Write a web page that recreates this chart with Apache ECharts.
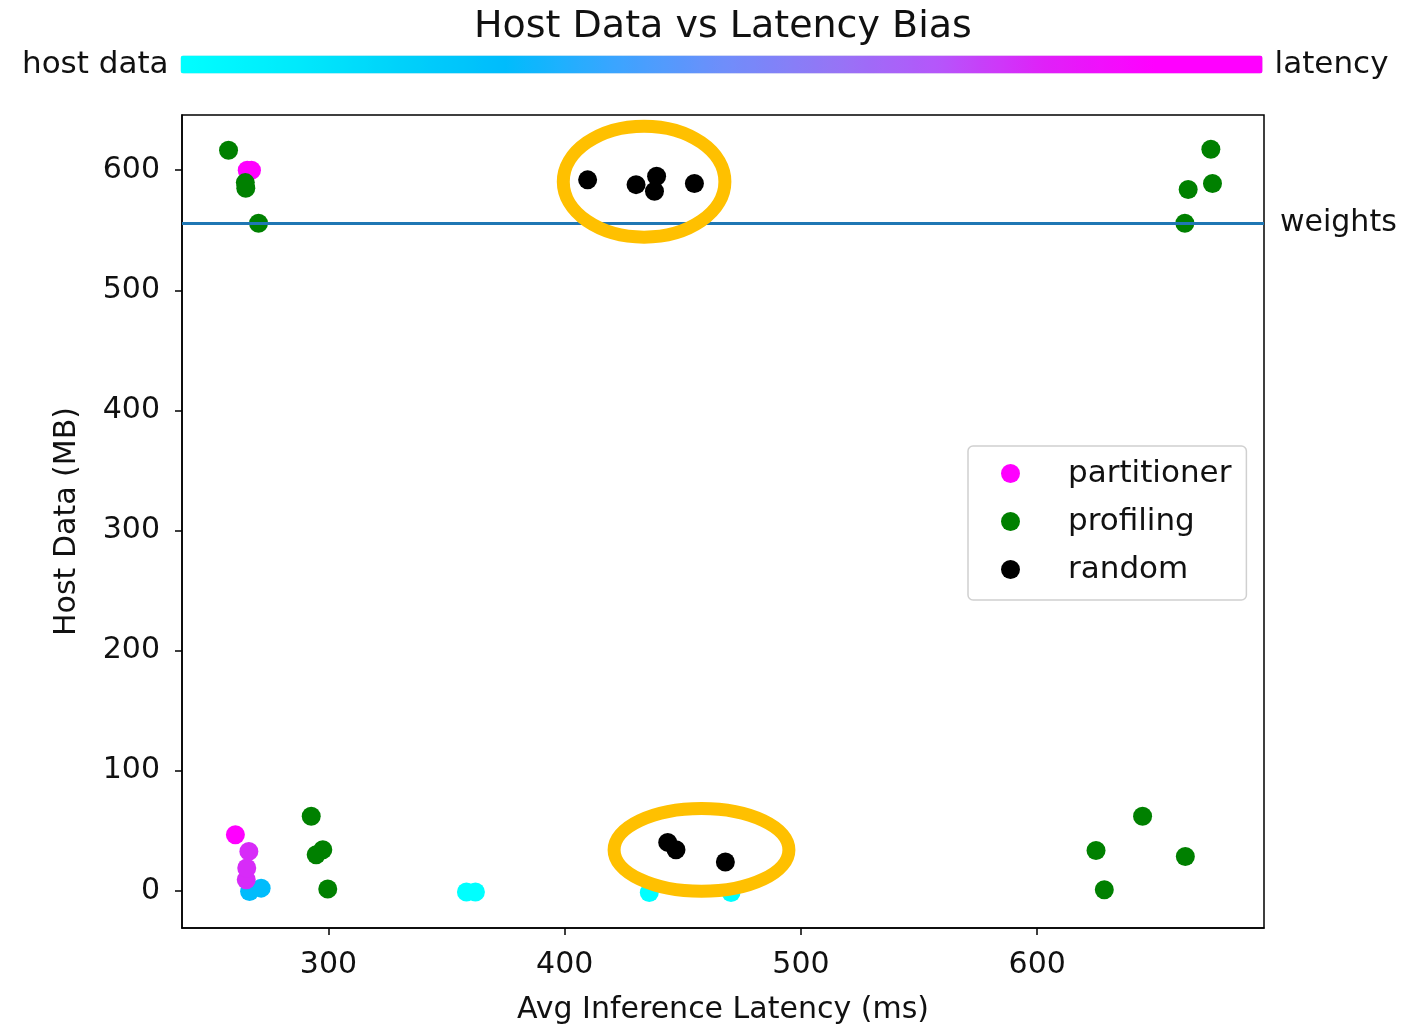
<!DOCTYPE html>
<html>
<head>
<meta charset="utf-8">
<script src="https://cdn.jsdelivr.net/npm/echarts@6/dist/echarts.min.js"></script>
<style>
html,body{margin:0;padding:0;background:#fff;}
#chart{width:1406px;height:1027px;}
</style>
</head>
<body>
<div id="chart"></div>
<script>
// ---- data ----
// partitioner: [latency ms, host data MB, bias (0 = host data, 1 = latency)]
const partitioner = [
  [358.4, -1, 0.0], [362.2, -1, 0.0], [435.8, -1.5, 0.0], [470.4, -1.5, 0.0],
  [266.6, -0.6, 0.3], [271.5, 2.2, 0.3],
  [265.2, 9.2, 0.78], [265.4, 18.9, 0.78], [266.3, 32.8, 0.78],
  [260.6, 46.7, 1.0],
  [265.6, 600, 1.0], [267.4, 600, 1.0]
];
const profiling = [
  [257.7, 616.7], [264.8, 589.7], [265.0, 585.0], [270.4, 555.8],
  [673.5, 617.5], [674.2, 589.0], [663.9, 584.0], [662.5, 555.8],
  [292.7, 62.0], [297.6, 34.2], [294.8, 30.0], [299.7, 1.4],
  [644.6, 62.0], [624.9, 33.6], [662.7, 28.6], [628.4, 0.8]
];
const random = [
  [409.7, 592.0], [430.2, 588.0], [438.9, 595.0], [438.0, 582.5], [454.9, 589.0],
  [443.6, 40.3], [447.1, 34.2], [468.0, 23.9]
];
const weightsLevel = 556;
// highlight ellipses: [center x, center y, radius x, radius y] in data units
const highlights = [
  [433.6, 590.5, 34.2, 46.2],
  [457.9, 34.0, 37.0, 34.5]
];
const xTicks = [300, 400, 500, 600];
const yTicks = [0, 100, 200, 300, 400, 500, 600];
const biasColors = ['#00FFFF','#00EBFC','#00D2FA','#00BCFC','#3AA5FF','#6E8EFA','#9476F5','#B556FA','#E020F8','#FF00FF','#FF00FF'];

const FONT = 'DejaVu Sans';
const TXT = '#111';

const chart = echarts.init(document.getElementById('chart'), null, {renderer: 'canvas'});
chart.setOption({
  animation: false,
  backgroundColor: '#fff',
  textStyle: {fontFamily: FONT, color: TXT},
  title: {
    text: 'Host Data vs Latency Bias',
    left: 474, top: 8, padding: 0,
    textStyle: {fontFamily: FONT, fontSize: 38, fontWeight: 'normal', color: TXT}
  },
  visualMap: {
    type: 'continuous',
    orient: 'horizontal',
    seriesIndex: 0,
    dimension: 2,
    min: 0, max: 1,
    calculable: false,
    left: 7, top: 34,
    itemWidth: 18, itemHeight: 1082,
    text: ['latency', 'host data'],
    textGap: 12,
    textStyle: {fontFamily: FONT, fontSize: 31, color: TXT},
    inRange: {color: biasColors}
  },
  grid: {
    left: 182, right: 142, top: 115, bottom: 99,
    outerBoundsMode: 'none', containLabel: false,
    show: true, borderColor: '#000', borderWidth: 1.5, backgroundColor: 'transparent'
  },
  legend: {
    data: ['partitioner', 'profiling', 'random'],
    orient: 'vertical',
    left: 968, top: 446,
    icon: 'circle',
    itemWidth: 19, itemHeight: 19, itemGap: 17,
    padding: [12, 15, 15, 33],
    borderColor: '#d0d0d0', borderWidth: 1.5, borderRadius: 5,
    backgroundColor: '#fff',
    textStyle: {fontFamily: FONT, fontSize: 31, lineHeight: 30, color: TXT, padding: [0, 0, 0, 43]}
  },
  xAxis: {
    type: 'value', min: 238, max: 696,
    name: 'Avg Inference Latency (ms)', nameLocation: 'middle', nameGap: 67,
    nameTextStyle: {fontFamily: FONT, fontSize: 30, color: TXT},
    axisLine: {show: true, onZero: false, lineStyle: {color: '#000', width: 1.5}},
    axisTick: {show: true, length: 7, lineStyle: {color: '#000', width: 1.5}, customValues: xTicks},
    axisLabel: {fontFamily: FONT, fontSize: 30, color: TXT, margin: 22, customValues: xTicks},
    splitLine: {show: false}
  },
  yAxis: {
    type: 'value', min: -31, max: 646,
    name: 'Host Data (MB)', nameLocation: 'middle', nameGap: 100,
    nameTextStyle: {fontFamily: FONT, fontSize: 30, color: TXT},
    axisLine: {show: true, onZero: false, lineStyle: {color: '#000', width: 1.5}},
    axisTick: {show: true, length: 7, lineStyle: {color: '#000', width: 1.5}, customValues: yTicks},
    axisLabel: {fontFamily: FONT, fontSize: 30, color: TXT, margin: 22, customValues: yTicks},
    splitLine: {show: false}
  },
  series: [
    {
      name: 'partitioner', type: 'scatter', symbolSize: 19, z: 3,
      itemStyle: {color: '#FF00FF', opacity: 1},
      data: partitioner
    },
    {
      name: 'profiling', type: 'scatter', symbolSize: 19, z: 4,
      itemStyle: {color: '#008000', opacity: 1},
      data: profiling,
      markLine: {
        silent: true, symbol: 'none',
        lineStyle: {color: '#1f77b4', width: 3, type: 'solid'},
        label: {show: true, position: 'end', formatter: 'weights', distance: 16,
                fontFamily: FONT, fontSize: 30, color: TXT},
        data: [{yAxis: weightsLevel}]
      }
    },
    {
      name: 'random', type: 'scatter', symbolSize: 19, z: 5,
      itemStyle: {color: '#000000', opacity: 1},
      data: random
    },
    {
      name: 'highlight', type: 'custom', z: 10, silent: true,
      data: highlights,
      encode: {x: 0, y: 1},
      renderItem: function (params, api) {
        const c = api.coord([api.value(0), api.value(1)]);
        const s = api.size([api.value(2), api.value(3)]);
        const rx = s[0], ry = s[1];
        const d = 'M ' + (c[0] - rx) + ' ' + c[1] +
          ' A ' + rx + ' ' + ry + ' 0 1 0 ' + (c[0] + rx) + ' ' + c[1] +
          ' A ' + rx + ' ' + ry + ' 0 1 0 ' + (c[0] - rx) + ' ' + c[1] + ' Z';
        return {
          type: 'path',
          shape: {pathData: d},
          style: {fill: 'none', stroke: '#FFC000', lineWidth: 13}
        };
      }
    }
  ]
});
</script>
</body>
</html>
